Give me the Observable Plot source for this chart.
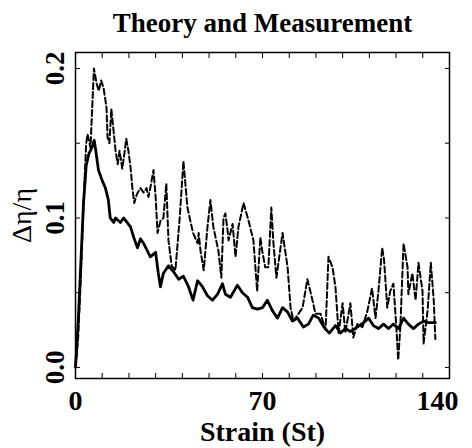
<!DOCTYPE html>
<html>
<head>
<meta charset="utf-8">
<script src="https://cdn.jsdelivr.net/npm/d3@7"></script>
<script src="https://cdn.jsdelivr.net/npm/@observablehq/plot@0.6"></script>
<style>
  html, body { margin: 0; padding: 0; background: #fff; }
  svg { display: block; }
</style>
</head>
<body>
<div id="chart"></div>
<script>
const titleText = "Theory and Measurement";
const xLabel = "Strain (St)";
const yLabel = "Δη/η";

// Solid curve (theory)
const solidX = [0, 1, 2, 3, 4, 5, 5.6, 6.3, 7, 7.6, 8.6, 10, 11.2, 12.3, 13, 14.3, 15, 15.6, 16.8, 18, 19.3, 20.6, 21.8, 23.2, 24.3, 25.5, 26.9, 28, 30, 31, 31.8, 32.9, 34.8, 36.7, 38.6, 40.4, 42.3, 44, 45.7, 47.5, 49.4, 51.3, 53.2, 55, 56.1, 58, 60.6, 62.5, 64.4, 66.2, 68.1, 70, 71.8, 73.7, 75.6, 77.5, 79.4, 81.2, 83.1, 85.3, 87.2, 89, 91, 93, 95, 97.3, 99.2, 101, 102.9, 105.5, 107.8, 109.7, 111.5, 113.4, 115.3, 117.2, 119, 120.9, 122.8, 124.6, 126.5, 128.4, 130.3, 132.1, 134.7];
const solidY = [0, 0.03, 0.07, 0.11, 0.135, 0.143, 0.145, 0.148, 0.152, 0.145, 0.132, 0.125, 0.12, 0.112, 0.1, 0.097, 0.1, 0.099, 0.097, 0.1, 0.097, 0.094, 0.087, 0.080, 0.086, 0.083, 0.078, 0.074, 0.077, 0.063, 0.054, 0.063, 0.068, 0.064, 0.059, 0.061, 0.054, 0.045, 0.058, 0.054, 0.048, 0.045, 0.049, 0.056, 0.049, 0.047, 0.055, 0.05, 0.047, 0.04, 0.039, 0.04, 0.045, 0.038, 0.033, 0.04, 0.037, 0.031, 0.033, 0.027, 0.029, 0.035, 0.033, 0.027, 0.023, 0.028, 0.023, 0.026, 0.024, 0.027, 0.03, 0.033, 0.028, 0.026, 0.029, 0.026, 0.029, 0.026, 0.033, 0.029, 0.026, 0.029, 0.031, 0.03, 0.03];

// Dashed curve (measurement)
const dashedX = [0, 1, 2, 3, 4, 4.5, 5.6, 6.9, 7.9, 8.7, 9.6, 10.5, 11.6, 12, 12.7, 13.4, 14.1, 15, 15.8, 16.5, 17.5, 18.3, 19, 19.8, 20.6, 21.3, 22, 23, 24.3, 25.5, 26.6, 27.3, 28, 29.2, 30, 30.7, 31.8, 32.9, 34, 34.8, 36, 37.4, 39, 40.4, 41.9, 43, 44, 45.7, 46.1, 46.8, 48, 49.4, 50.5, 51.6, 53.5, 54.6, 55.4, 56.1, 56.9, 57.3, 58.8, 59.9, 61, 62.9, 64.8, 66.6, 68, 69.2, 69.9, 71, 72.2, 73.3, 74.1, 75.2, 77.5, 79.4, 80.5, 81.6, 85, 86.8, 88.7, 89.8, 91.7, 93.6, 94.7, 96.2, 97.3, 98.5, 100, 101, 102.9, 104, 105.5, 107.4, 109.3, 111, 112.3, 113.4, 114.8, 115.5, 116.7, 117.8, 119, 120.1, 120.8, 121.6, 122.8, 124.3, 124.6, 126.1, 127.3, 128.4, 129.9, 130.3, 131.8, 133, 134.1, 134.7];
const dashedY = [0, 0.02, 0.06, 0.11, 0.15, 0.156, 0.147, 0.2, 0.19, 0.185, 0.192, 0.187, 0.174, 0.154, 0.15, 0.173, 0.161, 0.145, 0.136, 0.145, 0.133, 0.143, 0.153, 0.145, 0.134, 0.12, 0.11, 0.116, 0.12, 0.117, 0.12, 0.114, 0.12, 0.132, 0.114, 0.09, 0.098, 0.1, 0.123, 0.085, 0.068, 0.065, 0.1, 0.138, 0.107, 0.098, 0.09, 0.083, 0.09, 0.078, 0.065, 0.094, 0.112, 0.094, 0.078, 0.06, 0.1, 0.103, 0.092, 0.085, 0.096, 0.074, 0.094, 0.11, 0.098, 0.085, 0.051, 0.087, 0.078, 0.067, 0.067, 0.107, 0.083, 0.06, 0.09, 0.067, 0.04, 0.031, 0.04, 0.059, 0.045, 0.036, 0.036, 0.025, 0.074, 0.067, 0.054, 0.023, 0.043, 0.023, 0.043, 0.02, 0.029, 0.027, 0.038, 0.053, 0.033, 0.051, 0.08, 0.072, 0.04, 0.051, 0.056, 0.027, 0.005, 0.027, 0.083, 0.067, 0.049, 0.063, 0.045, 0.07, 0.051, 0.016, 0.038, 0.07, 0.045, 0.019];

const xTicks = [0, 10, 20, 30, 40, 50, 60, 70, 80, 90, 100, 110, 120, 130, 140];
const xTickLabels = [0, 70];
const xTickLabelsEnd = [140];
const yTicks = [0, 0.05, 0.1, 0.15, 0.2];
const yTickLabels = [0, 0.1, 0.2];

const solid = solidX.map((x, i) => ({x, y: solidY[i]}));
const dashed = dashedX.map((x, i) => ({x, y: dashedY[i]}));

const font = "Liberation Serif, Times New Roman, serif";

const chart = Plot.plot({
  width: 472,
  height: 448,
  marginLeft: 75,
  marginRight: 23,
  marginTop: 52,
  marginBottom: 70,
  style: {fontFamily: font, background: "#fff", color: "#000"},
  x: {domain: [0, 140]},
  y: {domain: [-0.0074, 0.2107]},
  marks: [
    Plot.frame({stroke: "#000", strokeWidth: 1.5}),
    Plot.axisX(xTicks, {anchor: "bottom", tickSize: -5, tickFormat: () => "", label: null}),
    Plot.axisX(xTicks, {anchor: "top", tickSize: -5, tickFormat: () => "", label: null}),
    Plot.axisY(yTicks, {anchor: "left", tickSize: -5, tickFormat: () => "", label: null}),
    Plot.axisY(yTicks, {anchor: "right", tickSize: -5, tickFormat: () => "", label: null}),
    Plot.line(dashed, {x: "x", y: "y", stroke: "#000", strokeWidth: 2, strokeDasharray: "6,3", strokeLinejoin: "round"}),
    Plot.line(solid, {x: "x", y: "y", stroke: "#000", strokeWidth: 2.8, strokeLinejoin: "round"}),
    Plot.text(xTickLabels, {x: d => d, text: d => String(d), frameAnchor: "bottom", dy: 23, fontSize: 28, fontWeight: "bold", textAnchor: "middle", lineAnchor: "middle"}),
    Plot.text(xTickLabelsEnd, {x: d => d, text: d => String(d), frameAnchor: "bottom", dy: 23, dx: -12, fontSize: 28, fontWeight: "bold", textAnchor: "middle", lineAnchor: "middle"}),
    Plot.text([xLabel], {text: d => d, frameAnchor: "bottom", dy: 54, fontSize: 28, fontWeight: "bold", textAnchor: "middle", lineAnchor: "middle"}),
    Plot.text(yTickLabels, {y: d => d, text: d => d.toFixed(1), frameAnchor: "left", dx: -20, rotate: -90, fontSize: 27, fontWeight: "bold", textAnchor: "middle", lineAnchor: "middle"}),
    Plot.text([yLabel], {text: d => d, frameAnchor: "left", dx: -53, rotate: -90, fontSize: 28, textAnchor: "middle", lineAnchor: "middle"}),
    Plot.text([titleText], {text: d => d, frameAnchor: "top", dy: -29, fontSize: 27, fontWeight: "bold", textAnchor: "middle", lineAnchor: "middle"})
  ]
});
document.getElementById("chart").appendChild(chart);
</script>
</body>
</html>
